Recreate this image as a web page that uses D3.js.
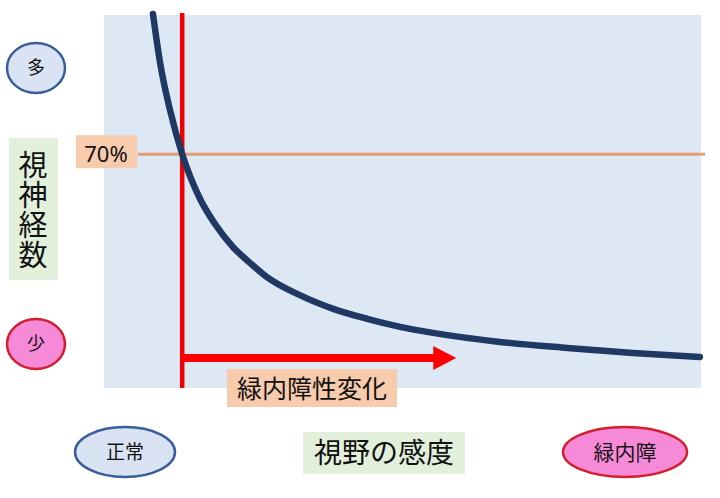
<!DOCTYPE html>
<html>
<head>
<meta charset="utf-8">
<script src="https://cdn.jsdelivr.net/npm/d3@7"></script>
<style>
  body { margin: 0; background: #fff; }
  text { font-family: "Noto Sans CJK JP", "Noto Sans", sans-serif; fill: #111; }
</style>
</head>
<body>
<div class="plot"></div>
<script>
// visual-field sensitivity (x) vs optic nerve count (y)
const sensitivity = [8.2, 9.4, 11.1, 13.1, 16.1, 18.6, 21.6, 24.5, 27.3, 32.8, 38.4, 44.1, 49.6, 55.1, 66.3, 77.6, 88.6, 99.8];
const nerveCount  = [112.0, 97.3, 82.9, 70, 56.6, 49.1, 42.2, 37.4, 33.2, 27.8, 23.7, 20.7, 18.3, 16.5, 13.8, 12.0, 10.5, 9.3];
const thresholdLevel = 70;     // 70% line
const thresholdLabel = "70%";
const onsetX = 13.1;           // where glaucomatous change starts
const arrowEndX = 59;
const yLabel = "視神経数";
const xLabel = "視野の感度";
const changeLabel = "緑内障性変化";
const yEnds = ["多", "少"];
const xEnds = ["正常", "緑内障"];

const width = 720, height = 498;
const margin = { top: 15, right: 19, bottom: 110, left: 104 };

const svg = d3.select(".plot")
    .append("svg")
    .attr("width", width)
    .attr("height", height);

const x = d3.scaleLinear()
    .domain([0, 100])
    .range([margin.left, width - margin.right]);

const y = d3.scaleLinear()
    .domain([0, 100])
    .range([height - margin.bottom, 54]);

const data = sensitivity.map((s, i) => ({ s: s, n: nerveCount[i] }));

// plot background
svg.append("rect")
    .attr("x", x(0)).attr("y", margin.top)
    .attr("width", x(100) - x(0))
    .attr("height", y(0) - margin.top)
    .attr("fill", "#dee8f5");

// 70% line
svg.append("line")
    .attr("x1", 138).attr("x2", x(100) + 4)
    .attr("y1", y(thresholdLevel)).attr("y2", y(thresholdLevel))
    .attr("stroke", "#e49c74")
    .attr("stroke-width", 3);

svg.append("rect")
    .attr("x", 76).attr("y", y(thresholdLevel) - 19)
    .attr("width", 61).attr("height", 33)
    .attr("fill", "#f8cbad");

svg.append("text")
    .attr("x", 106).attr("y", y(thresholdLevel) + 8)
    .attr("text-anchor", "middle")
    .style("font-family", "'Noto Sans', sans-serif")
    .style("font-size", "22px")
    .text(thresholdLabel);

// red vertical line at onset
svg.append("line")
    .attr("x1", x(onsetX)).attr("x2", x(onsetX))
    .attr("y1", margin.top - 2).attr("y2", y(0))
    .attr("stroke", "#f00000")
    .attr("stroke-width", 4.5);

// arrow
const arrowY = 358;
svg.append("line")
    .attr("x1", x(onsetX)).attr("x2", x(arrowEndX) - 22)
    .attr("y1", arrowY).attr("y2", arrowY)
    .attr("stroke", "#ff0000")
    .attr("stroke-width", 8);

svg.append("path")
    .attr("d", `M${x(arrowEndX) - 23},${arrowY - 12} L${x(arrowEndX)},${arrowY} L${x(arrowEndX) - 23},${arrowY + 12} Z`)
    .attr("fill", "#ff0000");

// curve
const lineGenerator = d3.line()
    .curve(d3.curveMonotoneX)
    .x(d => x(d.s))
    .y(d => y(d.n));

svg.append("path")
    .datum(data)
    .attr("d", lineGenerator)
    .attr("fill", "none")
    .attr("stroke", "#1f3864")
    .attr("stroke-width", 6.5)
    .attr("stroke-linecap", "round");

// change label
svg.append("rect")
    .attr("x", 227).attr("y", 369)
    .attr("width", 170).attr("height", 38)
    .attr("fill", "#f8cbad");

svg.append("text")
    .attr("x", 312).attr("y", 398)
    .attr("text-anchor", "middle")
    .style("font-size", "25px")
    .text(changeLabel);

// y axis title, vertical
svg.append("rect")
    .attr("x", 9).attr("y", 138)
    .attr("width", 49).attr("height", 142)
    .attr("fill", "#e2efda");

svg.append("text")
    .attr("x", 33).attr("y", 150)
    .style("writing-mode", "vertical-rl")
    .style("font-size", "29px")
    .style("letter-spacing", "1px")
    .text(yLabel);

// x axis title
svg.append("rect")
    .attr("x", 303).attr("y", 432)
    .attr("width", 162).attr("height", 42)
    .attr("fill", "#e2efda");

svg.append("text")
    .attr("x", 384).attr("y", 463)
    .attr("text-anchor", "middle")
    .style("font-size", "28px")
    .text(xLabel);

// end markers
const blue = { fill: "#dae3f3", stroke: "#3a5e9a" };
const pink = { fill: "#f78ad8", stroke: "#d2202c" };
const badges = [
    { t: yEnds[0], cx: 36, cy: 68, rx: 29, ry: 25, c: blue, fs: 18 },
    { t: yEnds[1], cx: 36, cy: 344, rx: 29, ry: 25, c: pink, fs: 18 },
    { t: xEnds[0], cx: 125, cy: 452, rx: 50, ry: 25, c: blue, fs: 19 },
    { t: xEnds[1], cx: 625, cy: 452, rx: 62, ry: 25, c: pink, fs: 21 }
];

badges.forEach(b => {
    svg.append("ellipse")
        .attr("cx", b.cx).attr("cy", b.cy)
        .attr("rx", b.rx).attr("ry", b.ry)
        .attr("fill", b.c.fill)
        .attr("stroke", b.c.stroke)
        .attr("stroke-width", 2.5);
    svg.append("text")
        .attr("x", b.cx).attr("y", b.cy + b.fs * 0.36)
        .attr("text-anchor", "middle")
        .style("font-size", b.fs + "px")
        .text(b.t);
});
</script>
</body>
</html>
